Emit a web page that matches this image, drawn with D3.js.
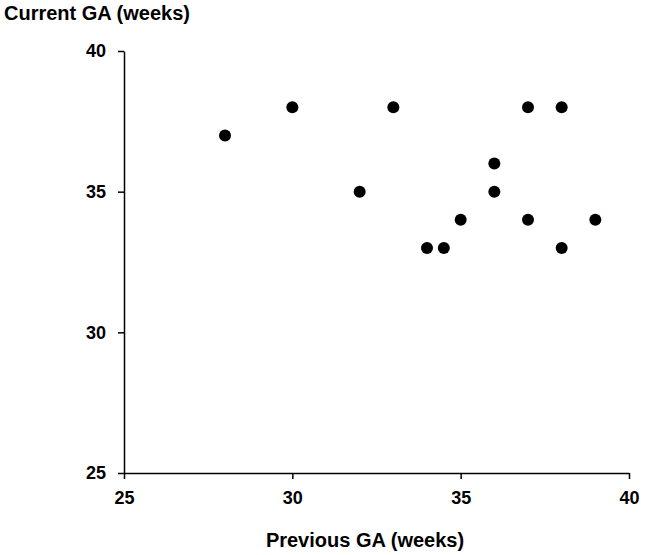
<!DOCTYPE html>
<html>
<head>
<meta charset="utf-8">
<script src="https://cdn.jsdelivr.net/npm/d3@7"></script>
<style>
  body { margin: 0; background: #fff; }
  text { font-family: "Liberation Sans", Arial, sans-serif; fill: #000; }
</style>
</head>
<body>
<div id="chart"></div>
<script>
// data
const previousGA = [28, 30, 33, 32, 34, 34.5, 35, 36, 36, 37, 38, 37, 38, 39]
const currentGA  = [37, 38, 38, 35, 33, 33, 34, 36, 35, 38, 38, 34, 33, 34]
const xTicks = [25, 30, 35, 40]
const yTicks = [25, 30, 35, 40]

const width = 645
const height = 555
const margin = { left: 124, right: 16, top: 51, bottom: 82 }

const svg = d3.select("#chart").append("svg").attr("width", width).attr("height", height)

const x = d3.scaleLinear().domain([25, 40]).range([margin.left, width - margin.right])
const y = d3.scaleLinear().domain([25, 40]).range([height - margin.bottom, margin.top])

// axes
svg.append("g")
    .attr("transform", `translate(0, ${height - margin.bottom})`)
    .call(d3.axisBottom(x).tickValues(xTicks).tickSize(6).tickPadding(12).tickSizeOuter(0))
svg.append("g")
    .attr("transform", `translate(${margin.left}, 0)`)
    .call(d3.axisLeft(y).tickValues(yTicks).tickSize(6).tickPadding(12).tickSizeOuter(0))

svg.selectAll(".domain, .tick line").attr("stroke", "#000").attr("stroke-width", 1.5)
svg.selectAll(".tick text")
    .style("font-family", "Liberation Sans, Arial, sans-serif")
    .style("font-size", "18px")
    .style("font-weight", "bold")
    .attr("fill", "#000")

// labels
svg.append("text")
    .attr("x", 4).attr("y", 20)
    .style("font-size", "20px").style("font-weight", "bold")
    .text("Current GA (weeks)")

svg.append("text")
    .attr("x", 365).attr("y", 547)
    .attr("text-anchor", "middle")
    .style("font-size", "20px").style("font-weight", "bold")
    .text("Previous GA (weeks)")

// points
svg.append("g").selectAll("circle")
    .data(previousGA.map((d, i) => ({ prev: d, cur: currentGA[i] })))
    .enter().append("circle")
    .attr("cx", d => x(d.prev))
    .attr("cy", d => y(d.cur))
    .attr("r", 6)
    .attr("fill", "#000")
</script>
</body>
</html>
